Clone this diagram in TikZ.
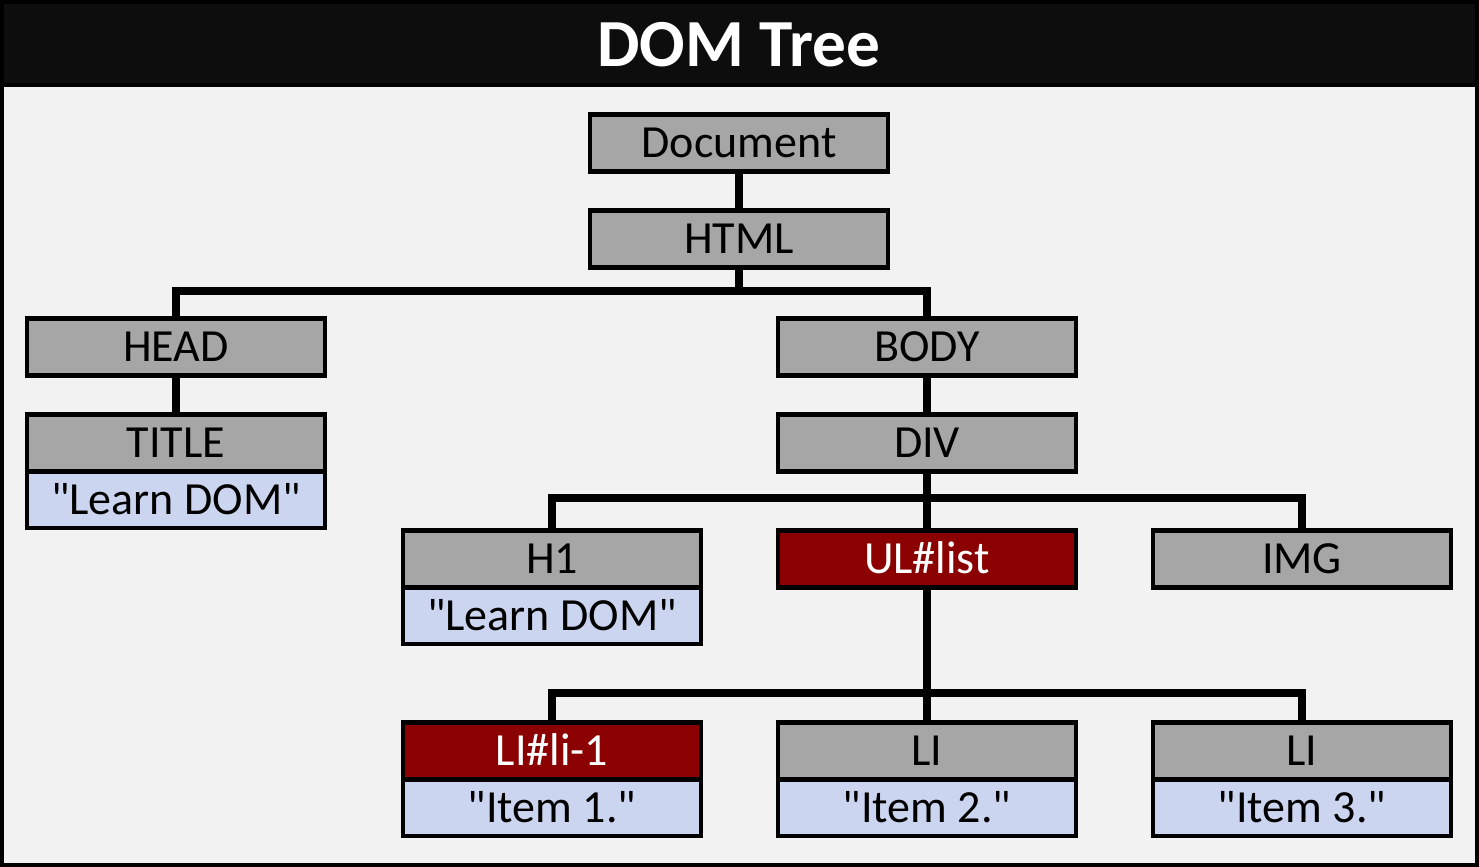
\documentclass[tikz,border=0pt]{standalone}
\usepackage{fontspec}
\setmainfont{Carlito}[Ligatures=TeXOff]
\usetikzlibrary{positioning}
\definecolor{barblack}{HTML}{0D0D0D}
\definecolor{paneback}{HTML}{F2F2F2}
\definecolor{elemgray}{HTML}{A6A6A6}
\definecolor{selred}{HTML}{8B0000}
\definecolor{txtblue}{HTML}{CCD5F0}

\begin{document}
\begin{tikzpicture}[x=0.75pt,y=-0.75pt,
    elem/.style={draw=black,line width=3.3pt,fill=elemgray,minimum width=223.5pt,minimum height=42.5pt,inner sep=0pt,
      font=\fontsize{34.5}{38}\selectfont,text height=22.2pt,text depth=0pt},
    sel/.style={elem,fill=selred,text=white},
    txt/.style={elem,fill=txtblue},
    link/.style={line width=5.5pt}]
    \fill[black] (0,0) rectangle (1479,867);
    \fill[barblack] (4,4) rectangle (1475,83);
    \fill[paneback] (4,87) rectangle (1475,863);
    \node[text=white,font=\fontsize{50.5}{54}\selectfont\bfseries] (heading) at (739,45) {DOM Tree};

    \node[elem] (doc) at (739,143) {Document};
    \node[elem] (html) at (739,239) {HTML};
    \node[elem] (head) at (176,347) {HEAD};
    \node[elem] (title) at (176,443) {TITLE};
    \node[txt,below=-3.3pt of title] (titletxt) {"Learn DOM"};
    \node[elem] (body) at (927,347) {BODY};
    \node[elem] (div) at (927,443) {DIV};
    \node[elem] (h1) at (552,559) {H1};
    \node[txt,below=-3.3pt of h1] (h1txt) {"Learn DOM"};
    \node[sel] (ul) at (927,559) {UL\#list};
    \node[elem] (img) at (1302,559) {IMG};
    \node[sel] (li1) at (552,751) {LI\#li-1};
    \node[txt,below=-3.3pt of li1] (li1txt) {"Item 1."};
    \node[elem] (li2) at (927,751) {LI};
    \node[txt,below=-3.3pt of li2] (li2txt) {"Item 2."};
    \node[elem] (li3) at (1302,751) {LI};
    \node[txt,below=-3.3pt of li3] (li3txt) {"Item 3."};

    \draw[link] (doc) -- (html);
    \draw[link] (html) -- ++(0,52) -| (head);
    \draw[link] (html) -- ++(0,52) -| (body);
    \draw[link] (head) -- (title);
    \draw[link] (body) -- (div);
    \foreach \n in {h1,ul,img}
      \draw[link] (div) -- ++(0,55) -| (\n);
    \foreach \n in {li1,li2,li3}
      \draw[link] (ul) -- ++(0,134) -| (\n);
\end{tikzpicture}
\end{document}
